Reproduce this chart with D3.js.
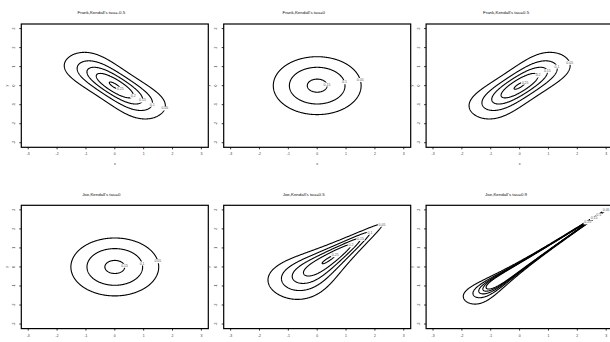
<!DOCTYPE html>
<html>
<head>
<meta charset="utf-8">
<script src="https://cdn.jsdelivr.net/npm/d3@7"></script>
<style>
  body { margin: 0; background: #fff; }
  text { font-family: "Liberation Sans", Arial, sans-serif; }
</style>
</head>
<body>
<svg id="chart" width="610" height="342"></svg>
<script>
// panel definitions
const families = ["Frank", "Frank", "Frank", "Joe", "Joe", "Joe"];
const taus = [-0.5, 0, 0.5, 0, 0.5, 0.9];
// contour levels of the density (normal margins)
const levels = [0.05, 0.1, 0.15, 0.2, 0.25];
const tickValues = [-3, -2, -1, 0, 1, 2, 3];

const svg = d3.select("#chart");

// layout
const boxW = 187, boxH = 123.3;
const colStep = 202.4, rowStep = 181.3;
const left0 = 21.3, top0 = 24;

// ---- math helpers ----
function erfc(x) {
  const z = Math.abs(x);
  const t = 1 / (1 + 0.5 * z);
  const r = t * Math.exp(-z * z - 1.26551223 + t * (1.00002368 + t * (0.37409196 + t * (0.09678418 +
    t * (-0.18628806 + t * (0.27886807 + t * (-1.13520398 + t * (1.48851587 +
    t * (-0.82215223 + t * 0.17087277)))))))));
  return x >= 0 ? r : 2 - r;
}
const pnorm = x => 0.5 * erfc(-x / Math.SQRT2);
const dnorm = x => Math.exp(-x * x / 2) / Math.sqrt(2 * Math.PI);

function frankTau(th) {
  // tau = 1 - 4/th * (1 - D1(th))
  const m = 400, h = th / m;
  let s = 0;
  for (let k = 0; k <= m; k++) {
    const t = k * h;
    const f = t === 0 ? 1 : t / (Math.exp(t) - 1);
    s += (k === 0 || k === m ? 1 : (k % 2 ? 4 : 2)) * f;
  }
  const D1 = (s * h / 3) / th;
  return 1 - 4 / th * (1 - D1);
}
function joeTau(th) {
  let s = 0;
  for (let k = 1; k < 20000; k++) s += 1 / (k * (th * k + 2) * (th * (k - 1) + 2));
  return 1 - 4 * s;
}
function bisect(f, target, a, b) {
  for (let i = 0; i < 80; i++) {
    const m = (a + b) / 2;
    if (f(m) < target) a = m; else b = m;
  }
  return (a + b) / 2;
}
function copulaDensity(family, tau) {
  if (family === "Frank") {
    if (tau === 0) return () => 1;
    const th = Math.sign(tau) * bisect(frankTau, Math.abs(tau), 1e-4, 60);
    const a = 1 - Math.exp(-th);
    return (u, v) => {
      const den = a - (1 - Math.exp(-th * u)) * (1 - Math.exp(-th * v));
      return th * a * Math.exp(-th * (u + v)) / (den * den);
    };
  }
  // Joe
  const th = tau === 0 ? 1 : bisect(joeTau, tau, 1, 200);
  return (u, v, ub, vb) => {
    const a = Math.pow(ub, th), b = Math.pow(vb, th);
    const A = a + b - a * b;
    return Math.pow(A, 1 / th - 2) * Math.pow(ub, th - 1) * Math.pow(vb, th - 1) * (th - 1 + A);
  };
}

// evaluation grid
const n = 301, lo = -3, hi = 3, step = (hi - lo) / (n - 1);
const gu = [], gub = [], gphi = [];
for (let i = 0; i < n; i++) {
  const x = lo + i * step;
  gu.push(pnorm(x));
  gub.push(pnorm(-x));
  gphi.push(dnorm(x));
}

const fmt = v => String(v);

families.forEach((family, p) => {
  const tau = taus[p];
  const col = p % 3, row = Math.floor(p / 3);
  const bx = left0 + col * colStep, by = top0 + row * rowStep;

  const x = d3.scaleLinear().domain([-3.24, 3.24]).range([bx, bx + boxW]);
  const y = d3.scaleLinear().domain([-3.24, 3.24]).range([by + boxH, by]);

  const g = svg.append("g");

  const clipId = "clip" + p;
  svg.append("clipPath").attr("id", clipId)
    .append("rect").attr("x", bx).attr("y", by).attr("width", boxW).attr("height", boxH);

  // density values
  const c = copulaDensity(family, tau);
  const values = new Float64Array(n * n);
  for (let j = 0; j < n; j++) {
    for (let i = 0; i < n; i++) {
      values[j * n + i] = c(gu[i], gu[j], gub[i], gub[j]) * gphi[i] * gphi[j];
    }
  }
  const contours = d3.contours().size([n, n]).thresholds(levels)(values);
  const toX = px => lo + (px - 0.5) * step;
  const proj = d3.geoTransform({
    point(px, py) { this.stream.point(x(toX(px)), y(toX(py))); }
  });
  const path = d3.geoPath(proj);

  const cg = g.append("g").attr("clip-path", `url(#${clipId})`);
  cg.selectAll("path.contour")
    .data(contours)
    .join("path")
    .attr("class", "contour")
    .attr("d", path)
    .attr("fill", "none")
    .attr("stroke", "#000")
    .attr("stroke-width", 1.1)
    .attr("stroke-linejoin", "round");

  // contour labels at the right-hand end of each ring
  const s = tau < 0 ? -0.2 : 0.2;
  const placed = [];
  contours.forEach(ct => {
    ct.coordinates.forEach(poly => {
      const ring = poly[0];
      if (!ring || ring.length < 8) return;
      let best = null, bestV = -Infinity;
      ring.forEach(pt => {
        const vx = toX(pt[0]), vy = toX(pt[1]);
        const val = vx + s * vy;
        if (val > bestV) { bestV = val; best = [vx, vy]; }
      });
      let lx = x(best[0]), ly = y(best[1]);
      // skip a label that would sit on top of one already placed
      if (placed.some(q => Math.abs(q[0] - lx) < 5 && Math.abs(q[1] - ly) < 3)) return;
      placed.push([lx, ly]);
      const label = fmt(ct.value);
      const w = label.length * 1.9 + 0.6;
      cg.append("rect")
        .attr("x", lx - w / 2).attr("y", ly - 2)
        .attr("width", w).attr("height", 4)
        .attr("fill", "#fff");
      cg.append("text")
        .attr("x", lx).attr("y", ly)
        .attr("text-anchor", "middle")
        .attr("dominant-baseline", "central")
        .attr("font-size", 3.5)
        .attr("fill", "#555")
        .text(label);
    });
  });

  // box
  g.append("rect")
    .attr("x", bx).attr("y", by).attr("width", boxW).attr("height", boxH)
    .attr("fill", "none").attr("stroke", "#000").attr("stroke-width", 1.2);

  // x axis ticks
  const xt = g.append("g");
  tickValues.forEach(v => {
    xt.append("line")
      .attr("x1", x(v)).attr("x2", x(v))
      .attr("y1", by + boxH).attr("y2", by + boxH + 2)
      .attr("stroke", "#000").attr("stroke-width", 0.8);
    xt.append("text")
      .attr("x", x(v)).attr("y", by + boxH + 7)
      .attr("text-anchor", "middle")
      .attr("dominant-baseline", "central")
      .attr("font-size", 3.4)
      .attr("fill", "#333")
      .text(v);
  });

  // y axis ticks (labels parallel to the axis)
  const yt = g.append("g");
  tickValues.forEach(v => {
    yt.append("line")
      .attr("x1", bx - 2).attr("x2", bx)
      .attr("y1", y(v)).attr("y2", y(v))
      .attr("stroke", "#000").attr("stroke-width", 0.8);
    yt.append("text")
      .attr("transform", `translate(${bx - 7.3},${y(v)}) rotate(-90)`)
      .attr("text-anchor", "middle")
      .attr("dominant-baseline", "central")
      .attr("font-size", 3.4)
      .attr("fill", "#333")
      .text(v);
  });

  // axis labels (the bottom row's x label falls below the frame)
  if (row === 0) {
    g.append("text")
      .attr("x", bx + boxW / 2).attr("y", by + boxH + 16.8)
      .attr("text-anchor", "middle")
      .attr("dominant-baseline", "central")
      .attr("font-size", 3.6)
      .attr("fill", "#333")
      .text("x");
  }
  g.append("text")
    .attr("transform", `translate(${bx - 14.3},${by + boxH / 2}) rotate(-90)`)
    .attr("text-anchor", "middle")
    .attr("dominant-baseline", "central")
    .attr("font-size", 3.6)
    .attr("fill", "#333")
    .text("y");

  // title
  g.append("text")
    .attr("x", bx + boxW / 2 - 13.5).attr("y", by - 11.3)
    .attr("text-anchor", "middle")
    .attr("dominant-baseline", "central")
    .attr("font-size", 4.4)
    .attr("fill", "#111")
    .text(`${family},Kendall's tau=${tau}`);
});
</script>
</body>
</html>
